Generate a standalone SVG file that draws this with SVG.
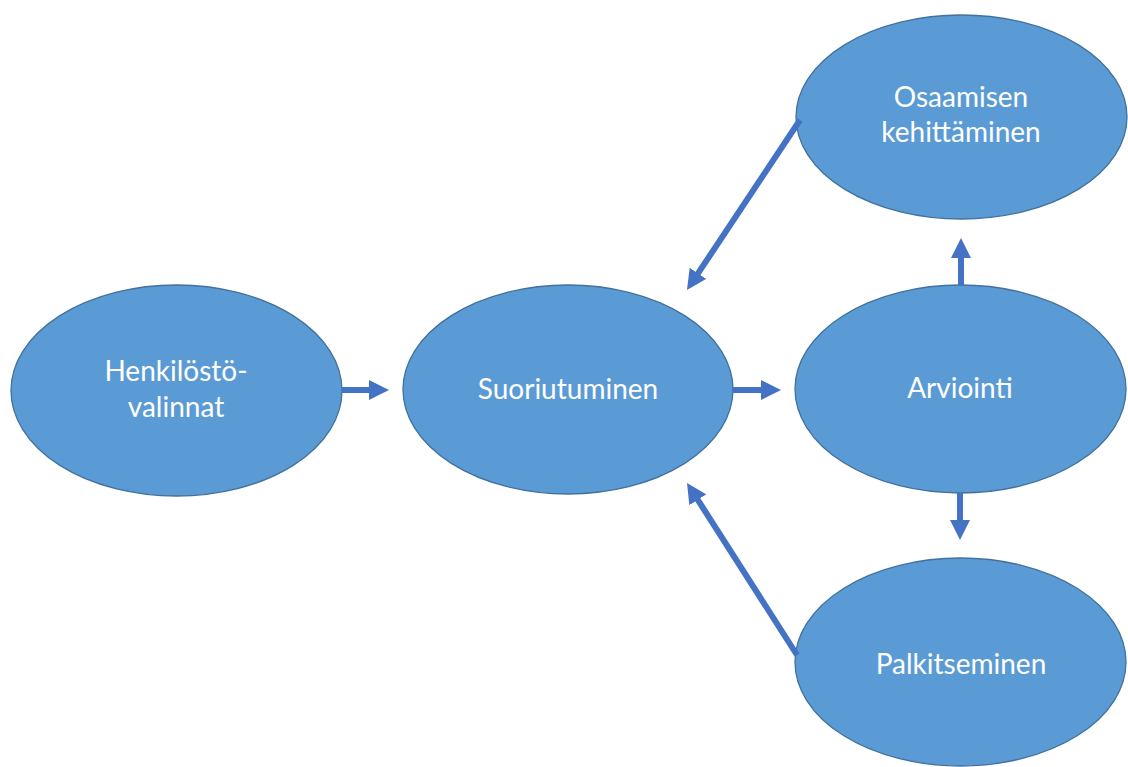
<svg xmlns="http://www.w3.org/2000/svg" width="1128" height="767" viewBox="0 0 1128 767">
  <style>
    .node { fill: #5B9BD5; stroke: #41719C; stroke-width: 1.3; }
    .label { fill: #FFFFFF; font-family: Lato, "Liberation Sans", sans-serif; font-size: 28px; text-anchor: middle; }
    .conn { stroke: #4472C4; stroke-width: 6; fill: none; marker-end: url(#arrow); }
  </style>
  <defs>
    <marker id="arrow" markerUnits="userSpaceOnUse" markerWidth="20" markerHeight="20" refX="10" refY="10" orient="auto" viewBox="0 0 20 20">
      <path d="M0,0 L20,10 L0,20 z" fill="#4472C4"/>
    </marker>
  </defs>
  <rect width="1128" height="767" fill="#FFFFFF"/>
  <g id="n-henkilosto">
    <ellipse class="node" cx="176.5" cy="390.5" rx="165.5" ry="105.5"/>
    <text class="label" x="176" y="381">Henkilöstö-</text>
    <text class="label" x="176" y="417">valinnat</text>
  </g>
  <g id="n-suoriutuminen">
    <ellipse class="node" cx="568" cy="389.5" rx="165" ry="104.5"/>
    <text class="label" x="568" y="399">Suoriutuminen</text>
  </g>
  <g id="n-arviointi">
    <ellipse class="node" cx="960.5" cy="389" rx="165.5" ry="104"/>
    <text class="label" x="960" y="398">Arviointi</text>
  </g>
  <g id="n-osaamisen">
    <ellipse class="node" cx="961.5" cy="117" rx="165.5" ry="102"/>
    <text class="label" x="961" y="107">Osaamisen</text>
    <text class="label" x="961" y="142">kehittäminen</text>
  </g>
  <g id="n-palkitseminen">
    <ellipse class="node" cx="960.5" cy="662" rx="165.5" ry="104"/>
    <text class="label" x="961" y="674">Palkitseminen</text>
  </g>
  <g id="connectors">
    <line class="conn" x1="342" y1="390" x2="379" y2="390"/>
    <line class="conn" x1="733" y1="390" x2="771" y2="390"/>
    <line class="conn" x1="961" y1="285" x2="961" y2="248"/>
    <line class="conn" x1="960" y1="493" x2="960" y2="530"/>
    <line class="conn" x1="800" y1="120" x2="692.5" y2="281.7"/>
    <line class="conn" x1="797" y1="655" x2="692.4" y2="491.4"/>
  </g>
</svg>
